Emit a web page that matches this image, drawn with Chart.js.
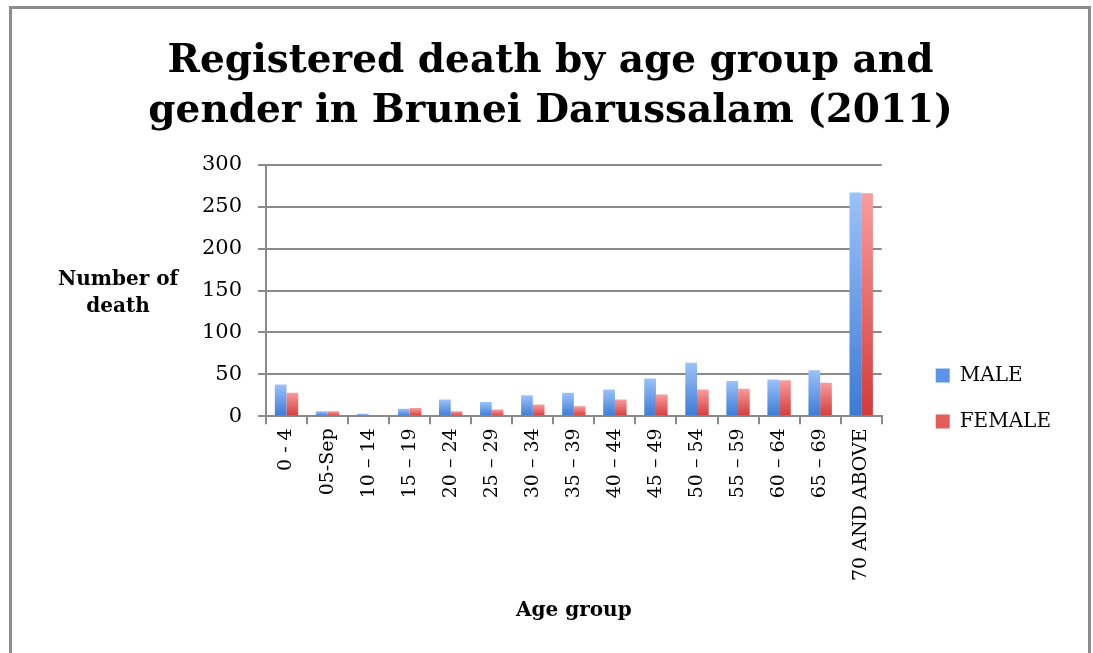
<!DOCTYPE html>
<html>
<head>
<meta charset="utf-8">
<script src="https://cdn.jsdelivr.net/npm/chart.js@4.4.1/dist/chart.umd.min.js"></script>
<style>
  html, body { margin: 0; padding: 0; background: #fff; overflow: hidden; }
  #wrap { position: relative; width: 1093px; height: 653px; }
  #frame { position: absolute; left: 9px; top: 6px; width: 1076px; height: 700px;
           border: 3px solid #8c8c8c; border-bottom: none; }
  #myChart { position: absolute; left: 0; top: 0; }
</style>
</head>
<body>
<div id="wrap">
  <div id="frame"></div>
  <canvas id="myChart" width="1093" height="653"></canvas>
</div>
<script>
var ageGroups = ['0 - 4', '05-Sep', '10 – 14', '15 – 19', '20 – 24', '25 – 29', '30 – 34',
                 '35 – 39', '40 – 44', '45 – 49', '50 – 54', '55 – 59', '60 – 64', '65 – 69', '70 AND ABOVE'];
var maleDeaths   = [38, 6, 3, 9, 20, 17, 25, 28, 32, 45, 64, 42, 44, 55, 267];
var femaleDeaths = [28, 6, 0, 10, 6, 8, 14, 12, 20, 26, 32, 33, 43, 40, 266];
var yTicks = [0, 50, 100, 150, 200, 250, 300];

var serif = '"DejaVu Serif", serif';

function barGradient(top, bottom) {
    return function(context) {
        var chart = context.chart;
        if (!chart.chartArea) return bottom;
        var yScale = chart.scales.y;
        var v = context.raw || 0;
        var yTop = yScale.getPixelForValue(v);
        var yBase = yScale.getPixelForValue(0);
        if (yBase - yTop < 1) yTop = yBase - 1;
        var g = chart.ctx.createLinearGradient(0, yTop, 0, yBase);
        g.addColorStop(0, top);
        g.addColorStop(1, bottom);
        return g;
    };
}

// horizontal y axis title, left of the tick labels
var yTitlePlugin = {
    id: 'yTitle',
    afterDraw: function(chart) {
        var c = chart.ctx;
        var area = chart.chartArea;
        var mid = (area.top + area.bottom) / 2;
        c.save();
        c.font = 'bold 20px ' + serif;
        c.fillStyle = '#000';
        c.textAlign = 'center';
        c.textBaseline = 'middle';
        c.fillText('Number of', 118, mid - 11);
        c.fillText('death', 118, mid + 16);
        c.restore();
    }
};

var legendBox = {
    MALE: '#5b93e6',
    FEMALE: '#e45c5c'
};

myChart = new Chart(document.getElementById('myChart'), {
    type: 'bar',
    data: {
        labels: ageGroups,
        datasets: [{
            label: 'MALE',
            data: maleDeaths,
            backgroundColor: barGradient('#9cc2fa', '#3b7ad4'),
            borderWidth: 0,
            categoryPercentage: 0.57,
            barPercentage: 1.0
        }, {
            label: 'FEMALE',
            data: femaleDeaths,
            backgroundColor: barGradient('#fa9c9c', '#d43a3a'),
            borderWidth: 0,
            categoryPercentage: 0.57,
            barPercentage: 1.0
        }]
    },
    options: {
        responsive: false,
        animation: false,
        layout: { padding: { left: 40, right: 32, top: 0, bottom: 30 } },
        plugins: {
            title: {
                display: true,
                text: ['Registered death by age group and', 'gender in Brunei Darussalam (2011)'],
                color: '#000',
                font: { family: serif, size: 39, weight: 'bold', lineHeight: 1.28 },
                padding: { top: 37, bottom: 28 }
            },
            legend: {
                position: 'right',
                title: {
                    display: true,
                    text: '',
                    font: { size: 10, lineHeight: 1.2 },
                    padding: { top: 162, bottom: 0 }
                },
                labels: {
                    color: '#000',
                    font: { family: serif, size: 20 },
                    boxWidth: 14,
                    boxHeight: 14,
                    padding: 26,
                    generateLabels: function(chart) {
                        return chart.data.datasets.map(function(ds, i) {
                            return {
                                text: ds.label,
                                fillStyle: legendBox[ds.label],
                                strokeStyle: legendBox[ds.label],
                                lineWidth: 0,
                                datasetIndex: i,
                                fontColor: '#000'
                            };
                        });
                    }
                }
            },
            tooltip: { enabled: false }
        },
        scales: {
            x: {
                offset: true,
                grid: {
                    display: true,
                    drawOnChartArea: false,
                    drawTicks: true,
                    tickLength: 8,
                    offset: true,
                    color: '#8a8a8a',
                    lineWidth: 2
                },
                border: { display: true, color: '#8a8a8a', width: 2 },
                ticks: {
                    color: '#000',
                    font: { family: serif, size: 19 },
                    minRotation: 90,
                    maxRotation: 90,
                    autoSkip: false,
                    padding: 4
                },
                title: {
                    display: true,
                    text: 'Age group',
                    color: '#000',
                    font: { family: serif, size: 20, weight: 'bold' },
                    padding: { top: 14, bottom: 0 }
                }
            },
            y: {
                min: 0,
                max: 300,
                afterBuildTicks: function(scale) {
                    scale.ticks = yTicks.map(function(v) { return { value: v }; });
                },
                afterFit: function(scale) { scale.width = 226; },
                grid: {
                    color: '#8a8a8a',
                    lineWidth: 2,
                    tickLength: 8
                },
                border: { display: true, color: '#8a8a8a', width: 2 },
                ticks: {
                    color: '#000',
                    font: { family: serif, size: 21 },
                    padding: 16
                }
            },
            // empty spacer between the plot and the legend
            gap: {
                type: 'linear',
                position: 'right',
                display: true,
                grid: { display: false },
                border: { display: false },
                ticks: { display: false },
                afterFit: function(scale) { scale.width = 28; }
            }
        }
    },
    plugins: [yTitlePlugin]
});
</script>
</body>
</html>
